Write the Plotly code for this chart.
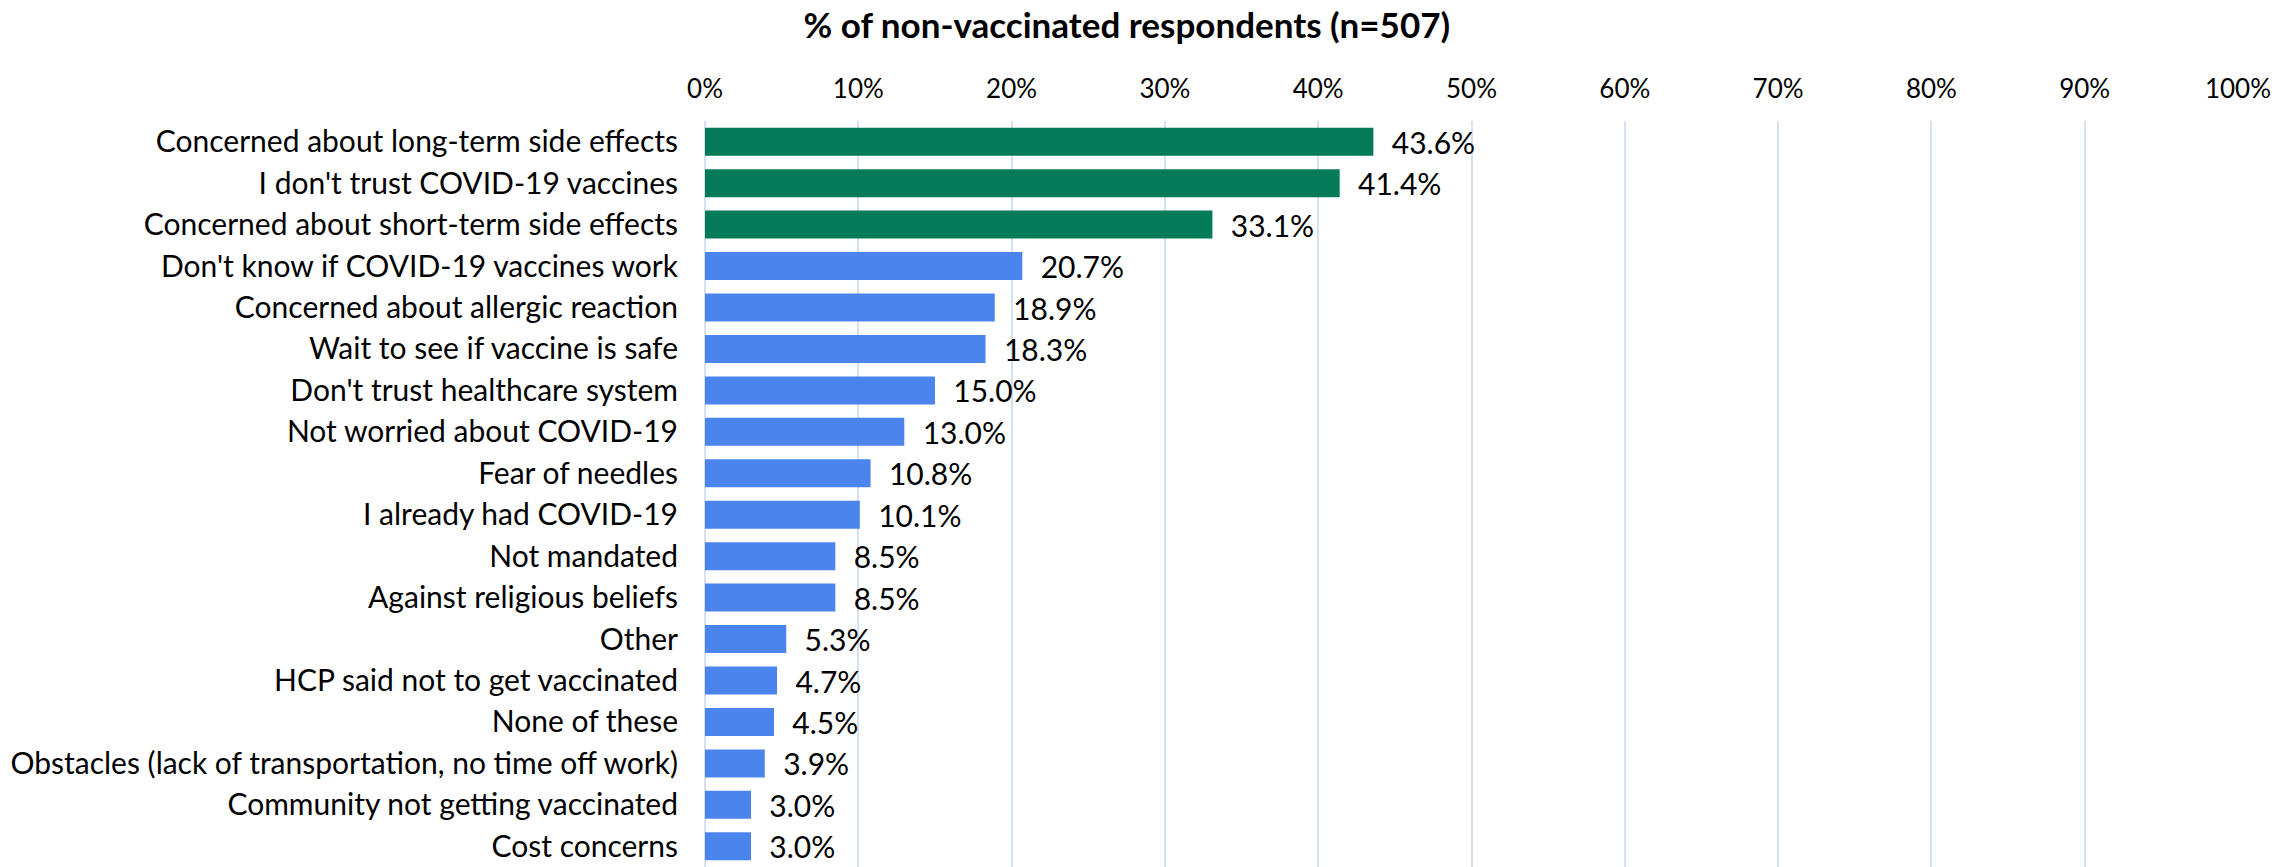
import plotly.graph_objects as go

# Reasons for not getting vaccinated, ordered top to bottom
reasons = [
    "Concerned about long-term side effects",
    "I don't trust COVID-19 vaccines",
    "Concerned about short-term side effects",
    "Don't know if COVID-19 vaccines work",
    "Concerned about allergic reaction",
    "Wait to see if vaccine is safe",
    "Don't trust healthcare system",
    "Not worried about COVID-19",
    "Fear of needles",
    "I already had COVID-19",
    "Not mandated",
    "Against religious beliefs",
    "Other",
    "HCP said not to get vaccinated",
    "None of these",
    "Obstacles (lack of transportation, no time off work)",
    "Community not getting vaccinated",
    "Cost concerns",
]
shares = [43.6, 41.4, 33.1, 20.7, 18.9, 18.3, 15.0, 13.0, 10.8, 10.1,
          8.5, 8.5, 5.3, 4.7, 4.5, 3.9, 3.0, 3.0]
top_count = 3
tick_vals = [0, 10, 20, 30, 40, 50, 60, 70, 80, 90, 100]
tick_text = [f"{v}%" for v in tick_vals]

GREEN = "#047b58"
BLUE = "#4a84ec"
GRID = "#d6e0f5"
FONT = "Lato, Carlito, Calibri, sans-serif"

colors = [GREEN if i < top_count else BLUE for i in range(len(reasons))]

fig = go.Figure(
    go.Bar(
        x=shares,
        y=reasons,
        orientation="h",
        marker=dict(color=colors, line=dict(width=0)),
        text=[f"  {v:.1f}%" for v in shares],
        textposition="outside",
        constraintext="none",
        textfont=dict(family=FONT, size=30, color="#000000"),
        cliponaxis=False,
    )
)

fig.update_layout(
    width=2295,
    height=867,
    margin=dict(l=705, r=57, t=121, b=0, autoexpand=False),
    paper_bgcolor="white",
    plot_bgcolor="white",
    bargap=0.325,
    showlegend=False,
    font=dict(family=FONT, size=30, color="#000000"),
    title=dict(
        text="<b>% of non-vaccinated respondents (n=507)</b>",
        x=0.491,
        xanchor="center",
        y=1 - 26 / 867,
        yanchor="middle",
        font=dict(family=FONT, size=35, color="#000000"),
    ),
)

fig.update_xaxes(
    side="top",
    range=[0, 100],
    tickvals=tick_vals,
    ticktext=tick_text,
    showgrid=True,
    gridcolor=GRID,
    gridwidth=1.5,
    zeroline=True,
    zerolinecolor=GRID,
    zerolinewidth=1.5,
    showline=False,
    ticks="",
    ticklabelstandoff=17,
    tickfont=dict(family=FONT, size=26, color="#000000"),
    automargin=False,
    fixedrange=True,
)

fig.update_yaxes(
    autorange="reversed",
    showgrid=False,
    showline=False,
    ticks="",
    ticklabelstandoff=26,
    tickfont=dict(family=FONT, size=30, color="#000000"),
    automargin=False,
    fixedrange=True,
)

fig.write_html("out.html")
